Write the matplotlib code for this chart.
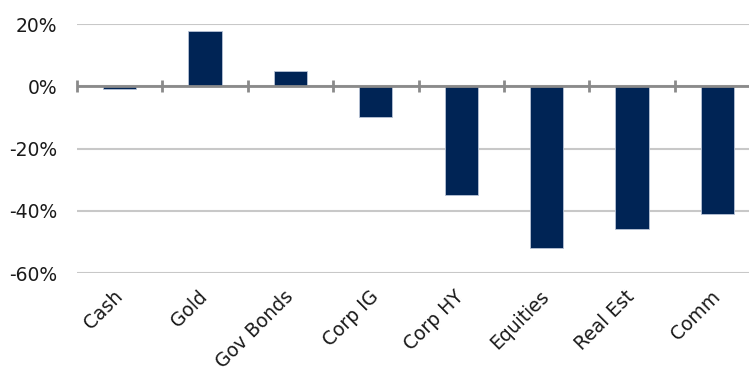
import matplotlib
matplotlib.use("Agg")
import matplotlib.pyplot as plt
import matplotlib.transforms as mtransforms
import numpy as np
from matplotlib.ticker import FuncFormatter, MultipleLocator

categories = ["Cash", "Gold", "Gov Bonds", "Corp IG", "Corp HY", "Equities", "Real Est", "Comm"]
returns_pct = [-0.8, 17.6, 4.8, -9.8, -34.8, -51.9, -45.7, -41.1]

plt.rcParams['font.family'] = ['DejaVu Sans']

fig = plt.figure(figsize=(7.49, 3.74), dpi=100)
ax = fig.add_axes([0.1028, 0.2693, 0.9119, 0.6665])

x = np.arange(len(categories))
ax.bar(x, returns_pct, width=0.39, color="#002455", edgecolor="#b8c3d6",
       linewidth=0.6, zorder=3)

ax.set_xlim(-0.5, len(categories) - 0.5)
ax.set_ylim(-60, 20)
ax.yaxis.set_major_locator(MultipleLocator(20))
ax.yaxis.set_major_formatter(FuncFormatter(lambda v, _: f"{v:.0f}%"))
ax.grid(axis="y", color="#c8c8c8", linewidth=1.5, zorder=0)

# zero baseline with category separator ticks
ax.axhline(0, color="#8a8a8a", linewidth=2, zorder=4)
bounds = np.arange(len(categories) + 1) - 0.5
ax.plot(bounds, np.zeros_like(bounds), ls="none", marker="|", markersize=9,
        markeredgewidth=2, color="#8a8a8a", zorder=4, clip_on=False)

for s in ax.spines.values():
    s.set_visible(False)

ax.set_xticks(x)
ax.set_xticklabels(categories, rotation=45, ha="right", rotation_mode="anchor",
                   fontsize=13.5, color="#1a1a1a")
ax.tick_params(axis="x", length=0, pad=10)
ax.tick_params(axis="y", length=0, pad=14, labelsize=13.5, labelcolor="#1a1a1a")

# nudge the slanted category labels slightly left
shift = mtransforms.ScaledTranslation(-5 / 72, 0, fig.dpi_scale_trans)
for lbl in ax.get_xticklabels():
    lbl.set_transform(lbl.get_transform() + shift)

fig.savefig("out.png", dpi=100)
